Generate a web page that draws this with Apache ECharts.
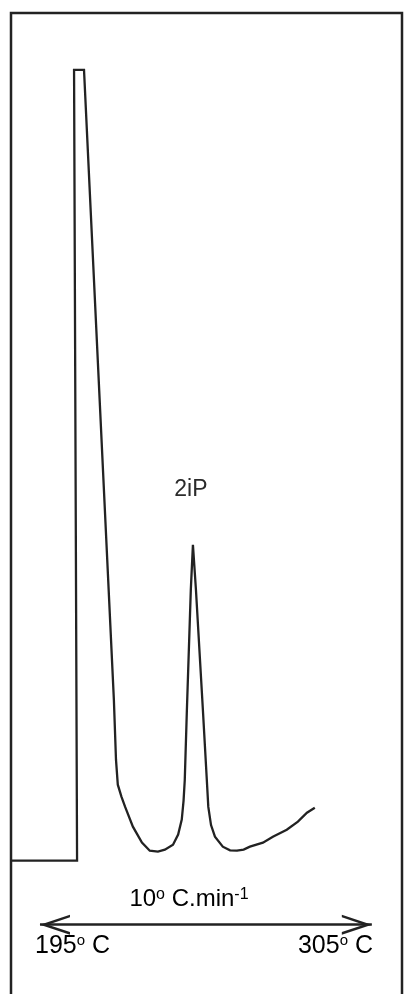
<!DOCTYPE html>
<html>
<head>
<meta charset="utf-8">
<script src="https://cdn.jsdelivr.net/npm/echarts@6/dist/echarts.min.js"></script>
<style>
  html, body { margin: 0; padding: 0; background: #fff; }
  #chart { width: 405px; height: 994px; }
</style>
</head>
<body>
<div id="chart"></div>
<script>
// retention time (min) and detector response (% of solvent peak)
const timeMin = [-0.96, 1.23, 1.13, 1.46, 2.45, 2.52, 2.58, 2.70, 2.82, 3.08, 3.38, 3.64, 3.91,
    4.14, 4.41, 4.58, 4.70, 4.76, 4.80, 4.87, 5.00, 5.07, 5.17, 5.40, 5.53, 5.58, 5.67, 5.80,
    6.06, 6.30, 6.53, 6.75, 6.96, 7.39, 7.72, 8.18, 8.55, 8.85, 9.11];
const response = [0, 0, 100, 100, 20.35, 12.77, 9.61, 8.10, 6.83, 4.30, 2.28, 1.26, 1.14,
    1.39, 2.02, 3.30, 5.20, 7.60, 10.24, 19.09, 34.26, 39.95, 34.26, 19.09, 10.24, 6.80, 4.50, 3.03,
    1.77, 1.30, 1.26, 1.40, 1.77, 2.28, 3.03, 3.92, 4.93, 6.07, 6.70];

const peakNames = ['2iP'];
const peakIndices = [21];

// oven program
const tempStart = 195;
const tempEnd = 305;
const rate = 10;

const ink = '#222';
const textInk = '#2b2b2b';
const font = 'Liberation Sans, Arial, sans-serif';

document.addEventListener('DOMContentLoaded', () => {
    const chart = echarts.init(document.getElementById('chart'));

    const programEnd = (tempEnd - tempStart) / rate;
    const arrowY = -8.09;

    const chevron = 'path://M10,0 L20,30 L17.4,30 L10,7.9 L2.6,30 L0,30 Z';

    const degRich = {
        n: { fontSize: 25, fontFamily: font, color: textInk, lineHeight: 25 },
        s: { fontSize: 15, fontFamily: font, color: textInk, verticalAlign: 'top' }
    };
    const rateRich = {
        n: { fontSize: 24, fontFamily: font, color: textInk, lineHeight: 24 },
        s: { fontSize: 16, fontFamily: font, color: textInk, verticalAlign: 'top' }
    };

    const option = {
        animation: false,
        backgroundColor: '#fff',
        grid: {
            left: 11,
            right: 3,
            top: 13,
            bottom: -9,
            show: true,
            borderColor: ink,
            borderWidth: 2.5,
            outerBoundsMode: 'none'
        },
        xAxis: {
            type: 'value',
            min: -0.96,
            max: 12.0,
            show: false
        },
        yAxis: {
            type: 'value',
            min: -18,
            max: 107.2,
            show: false
        },
        series: [{
            type: 'line',
            data: timeMin.map((t, i) => [t, response[i]]),
            showSymbol: false,
            symbol: 'none',
            lineStyle: { color: ink, width: 2.3, join: 'miter' },
            markPoint: {
                symbol: 'circle',
                symbolSize: 0,
                silent: true,
                label: {
                    show: true,
                    position: 'top',
                    distance: 44,
                    offset: [-2, 0],
                    formatter: '{b}',
                    fontSize: 23,
                    fontFamily: font,
                    color: textInk
                },
                data: peakNames.map((name, k) => ({
                    name: name,
                    coord: [timeMin[peakIndices[k]], response[peakIndices[k]]]
                }))
            },
            markLine: {
                silent: true,
                symbol: [chevron, chevron],
                symbolSize: [20, 30],
                symbolOffset: [[0, '50%'], [0, '50%']],
                label: { show: false },
                lineStyle: { color: ink, width: 2.5, type: 'solid' },
                data: [[{ coord: [0, arrowY] }, { coord: [programEnd, arrowY] }]]
            }
        }],
        graphic: [
            {
                type: 'text',
                x: 189,
                y: 899,
                style: {
                    text: '{n|' + rate + '}{s|o}{n| C.min}{s|-1}',
                    rich: rateRich,
                    align: 'center',
                    verticalAlign: 'middle'
                }
            },
            {
                type: 'text',
                x: 35,
                y: 946,
                style: {
                    text: '{n|' + tempStart + '}{s|o}{n| C}',
                    rich: degRich,
                    align: 'left',
                    verticalAlign: 'middle'
                }
            },
            {
                type: 'text',
                x: 373,
                y: 946,
                style: {
                    text: '{n|' + tempEnd + '}{s|o}{n| C}',
                    rich: degRich,
                    align: 'right',
                    verticalAlign: 'middle'
                }
            }
        ]
    };

    chart.setOption(option);

    window.addEventListener('resize', () => {
        chart.resize();
    });
});
</script>
</body>
</html>
